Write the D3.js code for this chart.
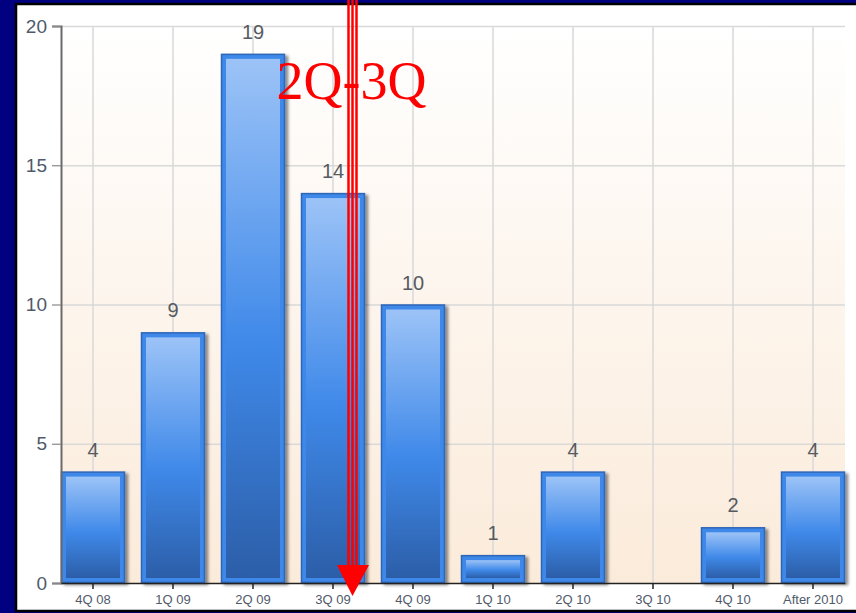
<!DOCTYPE html>
<html>
<head>
<meta charset="utf-8">
<script src="https://cdn.jsdelivr.net/npm/d3@7/dist/d3.min.js"></script>
<style>
  html, body { margin: 0; padding: 0; background: #000080; }
  svg { display: block; }
</style>
</head>
<body>
<svg id="chart" width="856" height="613"></svg>
<script>
// Deals closing by quarter
const categories = ["4Q 08", "1Q 09", "2Q 09", "3Q 09", "4Q 09", "1Q 10", "2Q 10", "3Q 10", "4Q 10", "After 2010"];
const values = [4, 9, 19, 14, 10, 1, 4, 0, 2, 4];
const yTicks = [0, 5, 10, 15, 20];
const markerLabel = "2Q-3Q";
const markerCategory = "3Q 09";

const svg = d3.select("#chart");
const W = 856, H = 613;
const plot = { left: 61, right: 845, top: 26, bottom: 583 };

const defs = svg.append("defs");

// panel background gradient (white to soft peach)
const bg = defs.append("linearGradient").attr("id", "plotBg")
  .attr("x1", 0).attr("y1", 0).attr("x2", 0).attr("y2", 1);
bg.append("stop").attr("offset", "0%").attr("stop-color", "#ffffff");
bg.append("stop").attr("offset", "100%").attr("stop-color", "#fbebda");

// bar face gradient
const bf = defs.append("linearGradient").attr("id", "barFace")
  .attr("x1", 0).attr("y1", 0).attr("x2", 0).attr("y2", 1);
bf.append("stop").attr("offset", "0%").attr("stop-color", "#9cc3f7");
bf.append("stop").attr("offset", "55%").attr("stop-color", "#3f89e9");
bf.append("stop").attr("offset", "100%").attr("stop-color", "#2c5ea8");

const shadow = defs.append("filter").attr("id", "barShadow")
  .attr("x", "-10%").attr("y", "-10%").attr("width", "130%").attr("height", "130%");
shadow.append("feDropShadow").attr("dx", 3).attr("dy", 2).attr("stdDeviation", 1.6)
  .attr("flood-color", "#000").attr("flood-opacity", 0.45);

// white panel with black frame
svg.append("rect").attr("x", 16).attr("y", 4).attr("width", W - 16 + 4).attr("height", 609 - 2)
  .attr("fill", "#ffffff").attr("stroke", "#000").attr("stroke-width", 2.5);

const x = d3.scaleBand().domain(categories)
  .range([plot.left, plot.right]).paddingInner(0.2).paddingOuter(0);
const y = d3.scaleLinear().domain([0, 20]).range([plot.bottom, plot.top]);

svg.append("rect").attr("x", plot.left).attr("y", plot.top)
  .attr("width", plot.right - plot.left).attr("height", plot.bottom - plot.top)
  .attr("fill", "url(#plotBg)");

// grid
svg.append("g").selectAll("line").data(yTicks.filter(d => d > 0)).join("line")
  .attr("x1", plot.left).attr("x2", plot.right)
  .attr("y1", d => y(d) + 0.5).attr("y2", d => y(d) + 0.5)
  .attr("stroke", "#d9d9d9").attr("stroke-width", 1.5);
svg.append("g").selectAll("line").data(categories).join("line")
  .attr("x1", d => x(d) + x.bandwidth() / 2).attr("x2", d => x(d) + x.bandwidth() / 2)
  .attr("y1", plot.top).attr("y2", plot.bottom)
  .attr("stroke", "#d9d9d9").attr("stroke-width", 1.5);

// bars
const bars = svg.append("g").selectAll("g").data(categories.map((c, i) => ({ c, v: values[i] })).filter(d => d.v > 0))
  .join("g");
bars.append("rect")
  .attr("x", d => x(d.c) + 0.5).attr("y", d => y(d.v) + 0.5)
  .attr("width", x.bandwidth() - 1).attr("height", d => y(0) - y(d.v) - 1)
  .attr("fill", "#3d88e8").attr("stroke", "#2f66b8").attr("stroke-width", 1.5)
  .attr("filter", "url(#barShadow)");
bars.append("rect")
  .attr("x", d => x(d.c) + 5).attr("y", d => y(d.v) + 5)
  .attr("width", x.bandwidth() - 10).attr("height", d => Math.max(0, y(0) - y(d.v) - 10))
  .attr("fill", "url(#barFace)");

// value labels
svg.append("g").selectAll("text").data(categories.map((c, i) => ({ c, v: values[i] })).filter(d => d.v > 0))
  .join("text")
  .attr("x", d => x(d.c) + x.bandwidth() / 2).attr("y", d => y(d.v) - 15)
  .attr("text-anchor", "middle")
  .attr("font-family", "Liberation Sans, Arial, sans-serif").attr("font-size", 20)
  .attr("fill", "#555a60")
  .text(d => d.v);

// axes
const yAxis = svg.append("g").attr("transform", `translate(${plot.left},0)`)
  .call(d3.axisLeft(y).tickValues(yTicks).tickSize(9).tickPadding(5));
yAxis.select(".domain").attr("stroke", "#6a6a6a").attr("stroke-width", 2);
yAxis.selectAll(".tick line").attr("stroke", "#888").attr("stroke-width", 1.2);
yAxis.selectAll("text").attr("font-family", "Liberation Sans, Arial, sans-serif")
  .attr("font-size", 19).attr("fill", "#4f5a6a");

const xAxis = svg.append("g").attr("transform", `translate(0,${plot.bottom})`)
  .call(d3.axisBottom(x).tickSize(6).tickSizeOuter(0).tickPadding(6));
xAxis.select(".domain").attr("stroke", "#222").attr("stroke-width", 1.5);
xAxis.selectAll(".tick line").attr("stroke", "#222").attr("stroke-width", 1.5);
xAxis.selectAll("text").attr("font-family", "Liberation Sans, Arial, sans-serif")
  .attr("font-size", 13).attr("fill", "#4f5a6a");

// red marker between 2Q and 3Q
const mx = x(markerCategory) + x.bandwidth() / 2 + 19.5;
const marker = svg.append("g");
[-4, 0, 4].forEach(off => {
  marker.append("line").attr("x1", mx + off).attr("x2", mx + off)
    .attr("y1", 0).attr("y2", 567)
    .attr("stroke", "#ff0000").attr("stroke-width", 2.5);
});
marker.append("path")
  .attr("d", `M${mx - 15.5},565 L${mx + 16.5},565 L${mx},596 Z`)
  .attr("fill", "#ff0000");
marker.append("text")
  .attr("x", mx - 1).attr("y", 99)
  .attr("text-anchor", "middle")
  .attr("font-family", "Liberation Serif, Times New Roman, serif")
  .attr("font-size", 54).attr("fill", "#ff0000")
  .text(markerLabel);
</script>
</body>
</html>
